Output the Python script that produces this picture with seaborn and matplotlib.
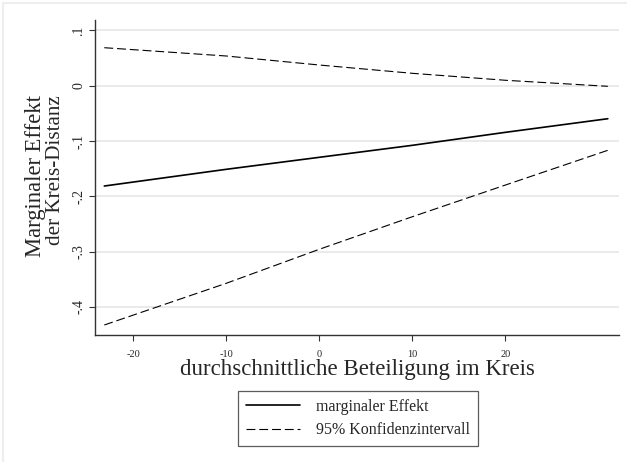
import numpy as np
import pandas as pd
import matplotlib
matplotlib.use("Agg")
import matplotlib.pyplot as plt
import seaborn as sns
from matplotlib.lines import Line2D

# Werte
beteiligung = [-23.1, -10, 0, 10, 20, 31.0]
marg_effekt = [-0.1814, -0.1512, -0.1295, -0.1078, -0.0843, -0.0597]
ki_oben = [0.0687, 0.0537, 0.0374, 0.0224, 0.0098, -0.0011]
ki_unten = [-0.4327, -0.3573, -0.2958, -0.2369, -0.1796, -0.1168]

x_ticks = [-20, -10, 0, 10, 20]
y_ticks = [0.1, 0, -0.1, -0.2, -0.3, -0.4]
y_ticklabels = [".1", "0", "-.1", "-.2", "-.3", "-.4"]

df = pd.DataFrame({"x": beteiligung, "me": marg_effekt,
                   "hi": ki_oben, "lo": ki_unten})

sns.set_style("white")
plt.rcParams['font.family'] = ['Liberation Serif', 'DejaVu Serif']

fig = plt.figure(figsize=(6.27, 4.62), dpi=100)
ax = fig.add_axes([95 / 627, 1 - 335 / 462, (619 - 95) / 627, (335 - 20) / 462])

dash = (0, (8.0, 3.5))
sns.lineplot(data=df, x="x", y="hi", ax=ax, color="black", lw=0.8, linestyle=dash)
sns.lineplot(data=df, x="x", y="lo", ax=ax, color="black", lw=0.8, linestyle=dash)
sns.lineplot(data=df, x="x", y="me", ax=ax, color="black", lw=1.2)

ax.set_xlim(-24.1, 32.2)
ax.set_ylim(-0.4508, 0.1188)

ax.set_xticks(x_ticks)
ax.set_xticklabels([str(t) for t in x_ticks], fontsize=7.5)
ax.set_yticks(y_ticks)
ax.set_yticklabels(y_ticklabels, fontsize=10, rotation=90, va="center")

ax.yaxis.grid(True, color="#e8e8e8", lw=1.3)
ax.set_axisbelow(True)
sns.despine(ax=ax, top=True, right=True)
for s in ["left", "bottom"]:
    ax.spines[s].set_color("#333333")
    ax.spines[s].set_linewidth(1.0)
ax.tick_params(axis="both", which="major", direction="out", length=4,
               width=0.8, color="#333333", left=True, bottom=True)
ax.tick_params(axis="x", pad=7)
ax.tick_params(axis="y", pad=3)

ax.set_xlabel("durchschnittliche Beteiligung im Kreis", fontsize=16.5, labelpad=0)
ax.set_ylabel("")
# zweizeilige y-Beschriftung, oben bündig wie im Original
fig.text(36 / 627, 1 - 95 / 462, "Marginaler Effekt", rotation=90,
         ha="center", va="top", fontsize=16.3)
fig.text(56 / 627, 1 - 95 / 462, "der Kreis-Distanz", rotation=90,
         ha="center", va="top", fontsize=15.2)

handles = [Line2D([], [], color="black", lw=1.2),
           Line2D([], [], color="black", lw=0.8, linestyle=dash)]
leg = fig.legend(handles, ["marginaler Effekt", "95% Konfidenzintervall"],
                 loc="upper center", bbox_to_anchor=(358 / 627, 1 - 391 / 462),
                 borderaxespad=0, fontsize=11.5, frameon=True, fancybox=False,
                 handlelength=3.4, handletextpad=1.0, labelspacing=0.45,
                 borderpad=0.5)
leg.get_frame().set_edgecolor("#333333")
leg.get_frame().set_linewidth(0.9)

# heller Rahmen oben und links
fig.add_artist(Line2D([3 / 627, 3 / 627], [0, 1 - 3 / 462], color="#eeeeee", lw=1.5))
fig.add_artist(Line2D([3 / 627, 1], [1 - 3 / 462, 1 - 3 / 462], color="#eeeeee", lw=1.5))

fig.savefig("out.png", dpi=100, facecolor="white")
